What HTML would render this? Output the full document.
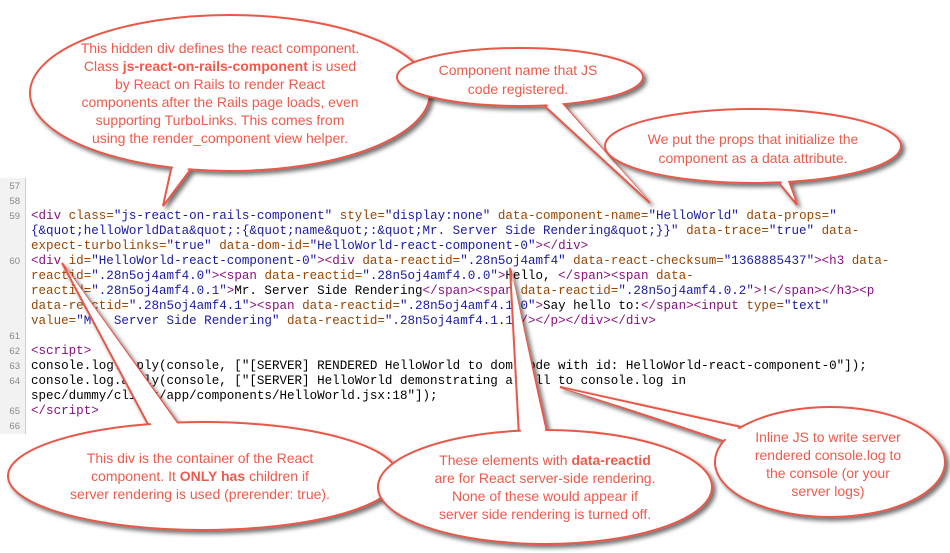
<!DOCTYPE html>
<html><head><meta charset="utf-8"><style>
html,body{margin:0;padding:0;background:#fff;}
body{width:950px;height:553px;position:relative;overflow:hidden;}
#gut{position:absolute;left:0;top:178px;width:25px;height:256px;background:#f2f2f2;border-right:1px solid #d0d0d0;}
pre{margin:0;position:absolute;font-family:"Liberation Mono",monospace;font-size:12.55px;line-height:15px;white-space:pre;}
#nums{left:0;top:179px;width:20px;text-align:right;font-family:"Liberation Sans",sans-serif;font-size:9.5px;color:#888;}
#code{left:31px;top:179px;color:#000;}
.t{color:#881280}.a{color:#994500}.v{color:#1a1aa6}
svg{position:absolute;left:0;top:0;}
text{font-family:"Liberation Sans",sans-serif;font-size:14px;fill:#ee5a4c;text-anchor:middle;}
</style></head><body>
<div id="gut"></div>
<pre id="nums">57
58
59


60




61
62
63
64

65
66</pre>
<pre id="code">


<span class="t">&lt;div</span> <span class="a">class=</span><span class="v">"js-react-on-rails-component"</span> <span class="a">style=</span><span class="v">"display:none"</span> <span class="a">data-component-name=</span><span class="v">"HelloWorld"</span> <span class="a">data-props=</span><span class="v">"</span>
<span class="v">{&amp;quot;helloWorldData&amp;quot;:{&amp;quot;name&amp;quot;:&amp;quot;Mr. Server Side Rendering&amp;quot;}}"</span> <span class="a">data-trace=</span><span class="v">"true"</span> <span class="a">data-</span>
<span class="a">expect-turbolinks=</span><span class="v">"true"</span> <span class="a">data-dom-id=</span><span class="v">"HelloWorld-react-component-0"</span><span class="t">&gt;&lt;/div&gt;</span>
<span class="t">&lt;div</span> <span class="a">id=</span><span class="v">"HelloWorld-react-component-0"</span><span class="t">&gt;&lt;div</span> <span class="a">data-reactid=</span><span class="v">".28n5oj4amf4"</span> <span class="a">data-react-checksum=</span><span class="v">"1368885437"</span><span class="t">&gt;&lt;h3</span> <span class="a">data-</span>
<span class="a">reactid=</span><span class="v">".28n5oj4amf4.0"</span><span class="t">&gt;&lt;span</span> <span class="a">data-reactid=</span><span class="v">".28n5oj4amf4.0.0"</span><span class="t">&gt;</span>Hello, <span class="t">&lt;/span&gt;&lt;span</span> <span class="a">data-</span>
<span class="a">reactid=</span><span class="v">".28n5oj4amf4.0.1"</span><span class="t">&gt;</span>Mr. Server Side Rendering<span class="t">&lt;/span&gt;&lt;span</span> <span class="a">data-reactid=</span><span class="v">".28n5oj4amf4.0.2"</span><span class="t">&gt;</span>!<span class="t">&lt;/span&gt;&lt;/h3&gt;&lt;p</span>
<span class="a">data-reactid=</span><span class="v">".28n5oj4amf4.1"</span><span class="t">&gt;&lt;span</span> <span class="a">data-reactid=</span><span class="v">".28n5oj4amf4.1.0"</span><span class="t">&gt;</span>Say hello to:<span class="t">&lt;/span&gt;&lt;input</span> <span class="a">type=</span><span class="v">"text"</span>
<span class="a">value=</span><span class="v">"Mr. Server Side Rendering"</span> <span class="a">data-reactid=</span><span class="v">".28n5oj4amf4.1.1"</span><span class="t">/&gt;&lt;/p&gt;&lt;/div&gt;&lt;/div&gt;</span>

<span class="t">&lt;script&gt;</span>
console.log.apply(console, ["[SERVER] RENDERED HelloWorld to dom node with id: HelloWorld-react-component-0"]);
console.log.apply(console, ["[SERVER] HelloWorld demonstrating a call to console.log in
spec/dummy/client/app/components/HelloWorld.jsx:18"]);
<span class="t">&lt;/script&gt;</span>
</pre>
<svg width="950" height="553" viewBox="0 0 950 553">
<defs><filter id="sh" x="-10%" y="-10%" width="130%" height="140%"><feDropShadow dx="3" dy="3" stdDeviation="2" flood-color="#000" flood-opacity="0.55"/></filter></defs>
<g stroke="#e8594a" stroke-width="2" fill="#fff">
<g filter="url(#sh)">
<polygon points="172,165 194,165 163,206"/>
<ellipse cx="230" cy="93" rx="200" ry="78"/>
<polygon points="174,163 192,163 165,202" stroke="none"/>
</g>
<g filter="url(#sh)">
<polygon points="538,100 559,100 650,203"/>
<ellipse cx="520" cy="77" rx="123" ry="29"/>
<polygon points="540,98 557,98 647,199" stroke="none"/>
</g>
<g filter="url(#sh)">
<polygon points="775,178 788,178 797,205"/>
<ellipse cx="753" cy="146" rx="148" ry="37"/>
<polygon points="777,176 786,176 795,200" stroke="none"/>
</g>
<g filter="url(#sh)">
<polygon points="150,428 181,428 62,263"/>
<ellipse cx="203" cy="476" rx="195" ry="54"/>
<polygon points="152,426 179,426 66,268" stroke="none"/>
</g>
<g filter="url(#sh)">
<polygon points="519,436 548,436 510,268"/>
<ellipse cx="545" cy="487" rx="167" ry="57"/>
<polygon points="521,434 546,434 512,274" stroke="none"/>
</g>
<g filter="url(#sh)">
<polygon points="726,442 746,428 560,387"/>
<ellipse cx="830" cy="462" rx="115" ry="55"/>
<polygon points="728,440 744,430 566,389" stroke="none"/>
</g>
</g>
<text x="220" y="53">This hidden div defines the react component.</text>
<text x="220" y="71">Class <tspan font-weight="bold">js-react-on-rails-component</tspan> is used</text>
<text x="220" y="89">by React on Rails to render React</text>
<text x="220" y="107">components after the Rails page loads, even</text>
<text x="220" y="125">supporting TurboLinks. This comes from</text>
<text x="220" y="143">using the render_component view helper.</text>
<text x="518" y="75">Component name that JS</text>
<text x="518" y="94">code registered.</text>
<text x="753" y="144">We put the props that initialize the</text>
<text x="753" y="163">component as a data attribute.</text>
<text x="200" y="463">This div is the container of the React</text>
<text x="200" y="481">component. It <tspan font-weight="bold">ONLY has</tspan> children if</text>
<text x="200" y="499">server rendering is used (prerender: true).</text>
<text x="545" y="465">These elements with <tspan font-weight="bold">data-reactid</tspan></text>
<text x="545" y="483">are for React server-side rendering.</text>
<text x="545" y="501">None of these would appear if</text>
<text x="545" y="519">server side rendering is turned off.</text>
<text x="828" y="442">Inline JS to write server</text>
<text x="828" y="460">rendered console.log to</text>
<text x="828" y="478">the console (or your</text>
<text x="828" y="496">server logs)</text>
</svg>
</body></html>
